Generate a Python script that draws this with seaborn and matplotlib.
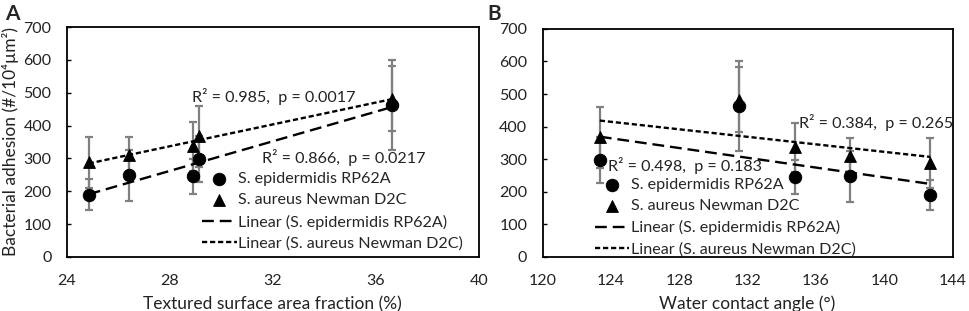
import seaborn as sns
sns.set_theme(style="white")

import matplotlib.pyplot as plt
import numpy as np
import pandas as pd

plt.rcParams['font.family'] = ['Lato', 'DejaVu Sans']

# Data
area_frac = [24.85, 26.43, 28.92, 29.12, 36.65]
contact_angle = [142.7, 138.0, 134.75, 123.35, 131.5]

epi_mean = [190, 248, 245, 298, 463]
epi_err = [47, 78, 52, 70, 138]
aur_mean = [288, 310, 337, 367, 482]
aur_err = [78, 55, 75, 93, 100]

epi_label = 'S. epidermidis RP62A'
aur_label = 'S. aureus Newman D2C'

stats_A = ['R² = 0.985,  p = 0.0017', 'R² = 0.866,  p = 0.0217']
stats_B = ['R² = 0.384,  p = 0.265', 'R² = 0.498,  p = 0.183']

fig = plt.figure(figsize=(9.69, 3.11), dpi=100)
axA = fig.add_axes([0.069, 0.174, 0.425, 0.739])
axB = fig.add_axes([0.560, 0.174, 0.423, 0.733])

TXT = '#222222'

def draw_panel(ax, x, xlim, xticks, xlabel):
    df = pd.DataFrame({'x': x, 'epi': epi_mean, 'aur': aur_mean})
    ax.errorbar(x, epi_mean, yerr=epi_err, fmt='none', ecolor='#808080',
                elinewidth=1.6, capsize=3, capthick=1.6, zorder=1)
    ax.errorbar(x, aur_mean, yerr=aur_err, fmt='none', ecolor='#808080',
                elinewidth=1.6, capsize=3, capthick=1.6, zorder=1)
    sns.scatterplot(data=df, x='x', y='epi', marker='o', s=80, color='black',
                    edgecolor='black', ax=ax, zorder=3, label=epi_label)
    sns.scatterplot(data=df, x='x', y='aur', marker='^', s=72, color='black',
                    edgecolor='black', ax=ax, zorder=3, label=aur_label)
    # linear trendlines (least squares), drawn over the data range
    xs = np.array([min(x), max(x)])
    for col, dash, lab in [('epi', (5, 2.5), 'Linear (' + epi_label + ')'),
                           ('aur', (2.2, 1.2), 'Linear (' + aur_label + ')')]:
        k, b = np.polyfit(df['x'], df[col], 1)
        sns.lineplot(x=xs, y=k * xs + b, color='black', linewidth=1.7,
                     dashes=False, ax=ax, zorder=2, label=lab)
        ax.lines[-1].set_dashes(dash)
    ax.set_xlim(*xlim)
    ax.set_ylim(0, 700)
    ax.set_xticks(xticks)
    ax.set_yticks(range(0, 701, 100))
    ax.set_xlabel(xlabel, fontsize=12.5, color=TXT, labelpad=6)
    ax.set_ylabel('')
    ax.tick_params(axis='x', direction='in', length=3.5, width=1, colors='black',
                   labelsize=11.5, pad=12, labelcolor=TXT)
    ax.tick_params(axis='y', direction='in', length=3, width=1, colors='black',
                   labelsize=11.5, pad=11, labelcolor=TXT, left=True)
    for s in ax.spines.values():
        s.set_color('black')
        s.set_linewidth(1.3)

draw_panel(axA, area_frac, (24, 40), [24, 28, 32, 36, 40],
           'Textured surface area fraction (%)')
draw_panel(axB, contact_angle, (120, 144), [120, 124, 128, 132, 136, 140, 144],
           'Water contact angle (°)')

axA.set_ylabel('Bacterial adhesion (#/10⁴µm²)', fontsize=12.5, color=TXT,
               labelpad=3)

leg_kw = dict(frameon=False, fontsize=11.6, handlelength=2.15, handletextpad=0.08,
              labelspacing=0.44, borderpad=0, borderaxespad=0, loc='upper left')
axA.legend(bbox_to_anchor=(0.328, 0.37), **leg_kw)
axB.legend(bbox_to_anchor=(0.127, 0.348), **leg_kw)

axA.text(28.85, 490, stats_A[0], fontsize=11.6, va='center', color=TXT)
axA.text(31.6, 303, stats_A[1], fontsize=11.6, va='center', color=TXT)
axB.text(135.0, 413, stats_B[0], fontsize=11.6, va='center', color=TXT)
axB.text(123.8, 281, stats_B[1], fontsize=11.6, va='center', color=TXT)

fig.text(0.005, 0.955, 'A', fontsize=15, fontweight='bold', va='center')
fig.text(0.503, 0.955, 'B', fontsize=15, fontweight='bold', va='center')

plt.savefig('out.png', dpi=100)
